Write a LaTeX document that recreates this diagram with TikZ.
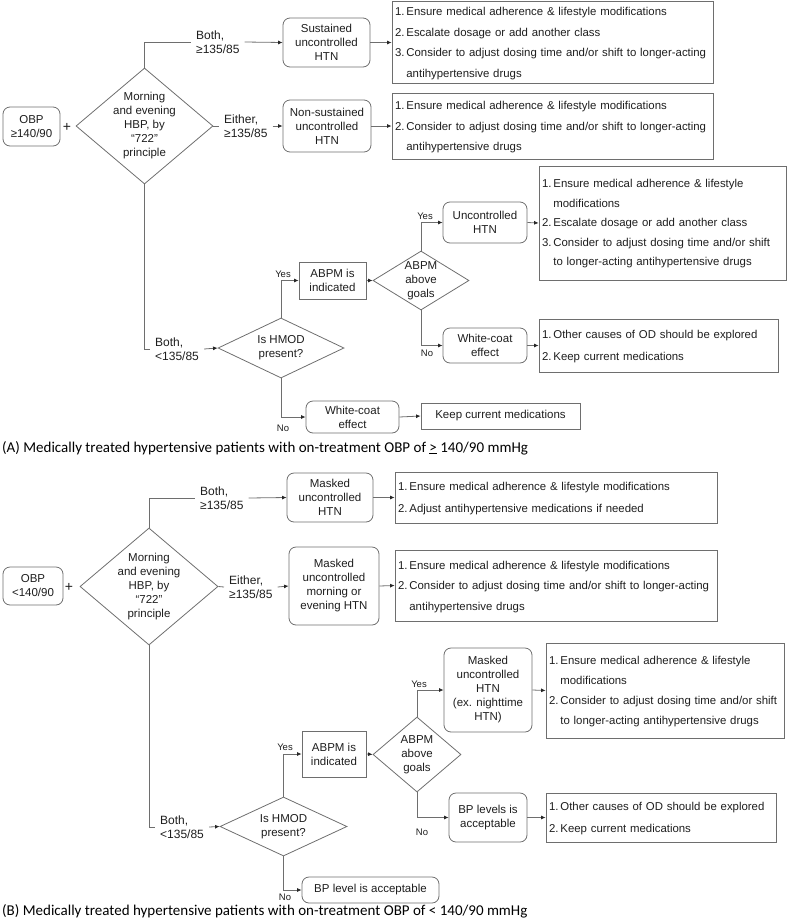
\documentclass[tikz,border=0pt]{standalone}
\usepackage{fontspec}
\setmainfont{Liberation Sans}
\newfontfamily\capfont{Carlito}
\usetikzlibrary{shapes.geometric,arrows.meta}

\definecolor{linegray}{RGB}{110,110,110}
\definecolor{textgray}{RGB}{30,30,30}

% text set inside a diamond without widening it
\newcommand{\dlines}[1]{\raisebox{-3pt}[0pt][0pt]{\makebox[0pt]{\begin{tabular}{@{}c@{}}#1\end{tabular}}}}

\tikzset{
    base/.style={draw=linegray, line width=0.8pt, text=textgray, font=\fontsize{11.5}{14}\selectfont, inner sep=2pt},
    rbox/.style={base, rounded corners=7pt, align=center},
    sbox/.style={base, align=center},
    decision/.style={base, diamond, inner sep=0pt},
    listbox/.style={base, align=left, inner xsep=3pt, inner ysep=0pt, font=\fontsize{11.4}{20.5}\selectfont},
    cond/.style={text=textgray, font=\fontsize{12}{14.3}\selectfont, align=left, inner sep=5pt, anchor=west},
    yn/.style={text=textgray, font=\fontsize{9.5}{11}\selectfont, inner sep=1pt},
    plus/.style={text=textgray, font=\fontsize{14}{14}\selectfont, inner sep=0pt},
    caption/.style={font=\capfont\fontsize{15}{18}\selectfont, anchor=west, inner sep=0pt},
    line/.style={draw=linegray, line width=0.8pt},
    arr/.style={line, -{Latex[length=4.5pt,width=4pt,color=black!85]}},
}

\begin{document}
\begin{tikzpicture}[x=1pt, y=-1pt]
    \useasboundingbox (0,0) rectangle (788,919);

    % (A) OBP >= 140/90
    \node[rbox, minimum width=57pt, minimum height=39pt] (obpA) at (31.5,126.5) {OBP\\≥140/90};
    \node[plus] (plusA) at (67,127) {+};
    \node[decision, minimum width=137pt, minimum height=116pt] (hbpA) at (144.5,126) {\dlines{Morning\\and evening\\HBP, by\\“722”\\principle}};

    \node[cond] (bothA1) at (191,42) {Both,\\≥135/85};
    \node[cond] (eitherA) at (219,126) {Either,\\≥135/85};
    \node[cond] (bothA2) at (150,349) {Both,\\<135/85};

    \node[rbox, minimum width=87pt, minimum height=49pt] (sustA) at (326.5,42.5) {Sustained\\uncontrolled\\HTN};
    \node[rbox, minimum width=88pt, minimum height=52pt] (nonsustA) at (327,126) {Non-sustained\\uncontrolled\\HTN};

    \node[listbox, text width=315pt, minimum height=81pt] (listA1) at (552.5,42.5) {\begin{tabular}{@{}l@{\,}l@{}}
        1. & Ensure medical adherence \& lifestyle modifications\\
        2. & Escalate dosage or add another class\\
        3. & Consider to adjust dosing time and/or shift to longer-acting\\
           & antihypertensive drugs\end{tabular}};
    \node[listbox, text width=315pt, minimum height=66pt] (listA2) at (552.5,126) {\begin{tabular}{@{}l@{\,}l@{}}
        1. & Ensure medical adherence \& lifestyle modifications\\
        2. & Consider to adjust dosing time and/or shift to longer-acting\\
           & antihypertensive drugs\end{tabular}};

    \node[decision, minimum width=126pt, minimum height=60pt] (hmodA) at (281,348) {\dlines{Is HMOD\\present?}};
    \node[sbox, minimum width=67pt, minimum height=37pt] (abpmA) at (332.5,280.5) {ABPM is\\indicated};
    \node[decision, minimum width=96pt, minimum height=59pt] (goalA) at (421,280.5) {\dlines{ABPM\\above\\goals}};
    \node[rbox, minimum width=84pt, minimum height=41pt] (uncA) at (485,222.5) {Uncontrolled\\HTN};
    \node[rbox, minimum width=84pt, minimum height=35pt] (wcA1) at (485,345.5) {White-coat\\effect};
    \node[rbox, minimum width=93pt, minimum height=32pt] (wcA2) at (352.5,417) {White-coat\\effect};

    \node[listbox, text width=241pt, minimum height=114pt, font=\fontsize{11.4}{19.5}\selectfont] (listA3) at (662.5,223) {\begin{tabular}{@{}l@{\,}l@{}}
        1. & Ensure medical adherence \& lifestyle\\
           & modifications\\
        2. & Escalate dosage or add another class\\
        3. & Consider to adjust dosing time and/or shift\\
           & to longer-acting antihypertensive drugs\end{tabular}};
    \node[listbox, text width=233pt, minimum height=53pt, font=\fontsize{11.4}{22}\selectfont] (listA4) at (658.5,345.5) {\begin{tabular}{@{}l@{\,}l@{}}
        1. & Other causes of OD should be explored\\
        2. & Keep current medications\end{tabular}};
    \node[sbox, minimum width=159pt, minimum height=26pt] (keepA) at (500.5,416) {Keep current medications};

    \node[yn] (yesA1) at (283,274) {Yes};
    \node[yn] (noA1) at (283,428) {No};
    \node[yn] (yesA2) at (425,216) {Yes};
    \node[yn] (noA2) at (427,353) {No};

    \draw[line] (hbpA.north) |- (bothA1.west);
    \draw[arr] (bothA1.east) -- (sustA.west);
    \draw[line] (hbpA.east) -- (eitherA.west);
    \draw[arr] (eitherA.east) -- (nonsustA.west);
    \draw[line] (hbpA.south) |- (bothA2.west);
    \draw[arr] (bothA2.east) -- (hmodA.west);
    \draw[arr] (sustA.east) -- (listA1.west);
    \draw[arr] (nonsustA.east) -- (listA2.west);
    \draw[arr] (hmodA.north) |- (abpmA.west);
    \draw[arr] (hmodA.south) |- (wcA2.west);
    \draw[arr] (abpmA.east) -- (goalA.west);
    \draw[arr] (goalA.north) |- (uncA.west);
    \draw[arr] (goalA.south) |- (wcA1.west);
    \draw[arr] (uncA.east) -- (listA3.west);
    \draw[arr] (wcA1.east) -- (listA4.west);
    \draw[arr] (wcA2.east) -- (keepA.west);

    \node[caption] (capA) at (2,448) {(A) Medically treated hypertensive patients with on-treatment OBP of \underline{>} 140/90 mmHg};

    % (B) OBP < 140/90
    \node[rbox, minimum width=60pt, minimum height=38pt] (obpB) at (33,586) {OBP\\<140/90};
    \node[plus] (plusB) at (69,587) {+};
    \node[decision, minimum width=138pt, minimum height=117pt] (hbpB) at (149,586.5) {\dlines{Morning\\and evening\\HBP, by\\“722”\\principle}};

    \node[cond] (bothB1) at (195,498) {Both,\\≥135/85};
    \node[cond] (eitherB) at (224,587) {Either,\\≥135/85};
    \node[cond] (bothB2) at (155,827) {Both,\\<135/85};

    \node[rbox, minimum width=86pt, minimum height=49pt] (maskB1) at (330,497.5) {Masked\\uncontrolled\\HTN};
    \node[rbox, minimum width=90pt, minimum height=78pt] (maskB2) at (334,586) {Masked\\uncontrolled\\morning or\\evening HTN};

    \node[listbox, text width=316pt, minimum height=51pt, font=\fontsize{11.4}{22}\selectfont] (listB1) at (556,497.5) {\begin{tabular}{@{}l@{\,}l@{}}
        1. & Ensure medical adherence \& lifestyle modifications\\
        2. & Adjust antihypertensive medications if needed\end{tabular}};
    \node[listbox, text width=316pt, minimum height=71pt] (listB2) at (556,585.5) {\begin{tabular}{@{}l@{\,}l@{}}
        1. & Ensure medical adherence \& lifestyle modifications\\
        2. & Consider to adjust dosing time and/or shift to longer-acting\\
           & antihypertensive drugs\end{tabular}};

    \node[decision, minimum width=127pt, minimum height=59pt] (hmodB) at (283.5,826.5) {\dlines{Is HMOD\\present?}};
    \node[sbox, minimum width=64pt, minimum height=46pt] (abpmB) at (334,754) {ABPM is\\indicated};
    \node[decision, minimum width=88pt, minimum height=75pt] (goalB) at (417,754.5) {\dlines{ABPM\\above\\goals}};
    \node[rbox, minimum width=88pt, minimum height=84pt] (maskB3) at (488,690) {Masked\\uncontrolled\\HTN\\(ex. nighttime\\HTN)};
    \node[rbox, minimum width=78pt, minimum height=49pt] (bpB1) at (488,817.5) {BP levels is\\acceptable};
    \node[rbox, minimum width=137pt, minimum height=26pt] (bpB2) at (370.5,890) {BP level is acceptable};

    \node[listbox, text width=232pt, minimum height=95pt, font=\fontsize{11.4}{20}\selectfont] (listB3) at (665,690.5) {\begin{tabular}{@{}l@{\,}l@{}}
        1. & Ensure medical adherence \& lifestyle\\
           & modifications\\
        2. & Consider to adjust dosing time and/or shift\\
           & to longer-acting antihypertensive drugs\end{tabular}};
    \node[listbox, text width=224pt, minimum height=49pt, font=\fontsize{11.4}{22}\selectfont] (listB4) at (661,817.5) {\begin{tabular}{@{}l@{\,}l@{}}
        1. & Other causes of OD should be explored\\
        2. & Keep current medications\end{tabular}};

    \node[yn] (yesB1) at (285,747) {Yes};
    \node[yn] (noB1) at (285,897) {No};
    \node[yn] (yesB2) at (419,684) {Yes};
    \node[yn] (noB2) at (422,832) {No};

    \draw[line] (hbpB.north) |- (bothB1.west);
    \draw[arr] (bothB1.east) -- (maskB1.west);
    \draw[line] (hbpB.east) -- (eitherB.west);
    \draw[arr] (eitherB.east) -- (maskB2.west);
    \draw[line] (hbpB.south) |- (bothB2.west);
    \draw[arr] (bothB2.east) -- (hmodB.west);
    \draw[arr] (maskB1.east) -- (listB1.west);
    \draw[arr] (maskB2.east) -- (listB2.west);
    \draw[arr] (hmodB.north) |- (abpmB.west);
    \draw[arr] (hmodB.south) |- (bpB2.west);
    \draw[arr] (abpmB.east) -- (goalB.west);
    \draw[arr] (goalB.north) |- (maskB3.west);
    \draw[arr] (goalB.south) |- (bpB1.west);
    \draw[arr] (maskB3.east) -- (listB3.west);
    \draw[arr] (bpB1.east) -- (listB4.west);

    \node[caption] (capB) at (2,911) {(B) Medically treated hypertensive patients with on-treatment OBP of < 140/90 mmHg};
\end{tikzpicture}
\end{document}
